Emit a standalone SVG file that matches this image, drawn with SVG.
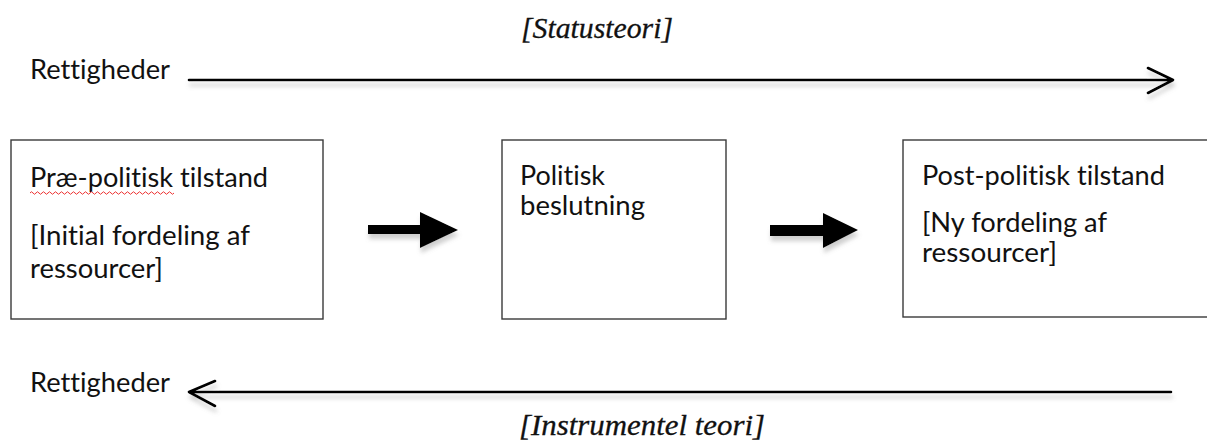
<svg xmlns="http://www.w3.org/2000/svg" width="1207" height="441" viewBox="0 0 1207 441">
<style>
.t{font-family:Lato,"Open Sans","Noto Sans",sans-serif;font-size:27px;fill:#111;font-variant-ligatures:none}
.i{font-family:"Liberation Serif","DejaVu Serif",serif;font-style:italic;font-size:30px;fill:#111;stroke:#111;stroke-width:0.3}
.box{fill:#fff;stroke:#3a3a3a;stroke-width:1.4}
.ln{fill:none;stroke:#000;stroke-width:2.6;stroke-linecap:round;stroke-linejoin:round}
.blk{fill:#000}
</style>
<defs>
<filter id="sh" x="-10%" y="-50%" width="120%" height="250%">
<feDropShadow dx="1" dy="5" stdDeviation="2" flood-color="#888" flood-opacity="0.4"/>
</filter>
</defs>
<rect width="1207" height="441" fill="#fff"/>
<g id="labels">
<text class="i" x="521" y="38" textLength="152" lengthAdjust="spacingAndGlyphs">[Statusteori]</text>
<text class="t" x="30" y="79" textLength="140" lengthAdjust="spacingAndGlyphs">Rettigheder</text>
<text class="t" x="30" y="392" textLength="140" lengthAdjust="spacingAndGlyphs">Rettigheder</text>
<text class="i" x="519" y="435" textLength="246" lengthAdjust="spacingAndGlyphs">[Instrumentel teori]</text>
</g>
<g id="node-pre">
<rect class="box" x="11" y="140" width="312" height="179"/>
<text class="t" x="30" y="187" textLength="238" lengthAdjust="spacingAndGlyphs">Præ-politisk tilstand</text>
<path d="M30 193 q1.5 -2.5 3 0 t3 0 t3 0 t3 0 t3 0 t3 0 t3 0 t3 0 t3 0 t3 0 t3 0 t3 0 t3 0 t3 0 t3 0 t3 0 t3 0 t3 0 t3 0 t3 0 t3 0 t3 0 t3 0 t3 0 t3 0 t3 0 t3 0 t3 0 t3 0 t3 0 t3 0 t3 0 t3 0 t3 0 t3 0 t3 0 t3 0 t3 0 t3 0 t3 0 t3 0 t3 0 t3 0 t3 0 t3 0 t3 0 t3 0 t3 0" fill="none" stroke="#e33" stroke-width="1"/>
<text class="t" x="30" y="245" textLength="220" lengthAdjust="spacingAndGlyphs">[Initial fordeling af</text>
<text class="t" x="30" y="278" textLength="133" lengthAdjust="spacingAndGlyphs">ressourcer]</text>
</g>
<g id="node-beslutning">
<rect class="box" x="502" y="140" width="224" height="179"/>
<text class="t" x="520" y="185" textLength="85" lengthAdjust="spacingAndGlyphs">Politisk</text>
<text class="t" x="520" y="215" textLength="125" lengthAdjust="spacingAndGlyphs">beslutning</text>
</g>
<g id="node-post">
<rect class="box" x="903" y="140" width="320" height="177"/>
<text class="t" x="922" y="185" textLength="243" lengthAdjust="spacingAndGlyphs">Post-politisk tilstand</text>
<text class="t" x="922" y="232" textLength="185" lengthAdjust="spacingAndGlyphs">[Ny fordeling af</text>
<text class="t" x="922" y="262" textLength="135" lengthAdjust="spacingAndGlyphs">ressourcer]</text>
</g>
<g id="connectors" filter="url(#sh)">
<path class="ln" d="M189 80 H1172 M1148 68 L1173 80 L1148 93"/>
<path class="ln" d="M1171 392 H189 M215 381 L189 392 L215 406"/>
<polygon class="blk" points="368,225 420,225 420,212 458,230 420,248 420,234 368,234"/>
<polygon class="blk" points="770,225 823,225 823,213 858,230 823,248 823,236 770,236"/>
</g>
</svg>
